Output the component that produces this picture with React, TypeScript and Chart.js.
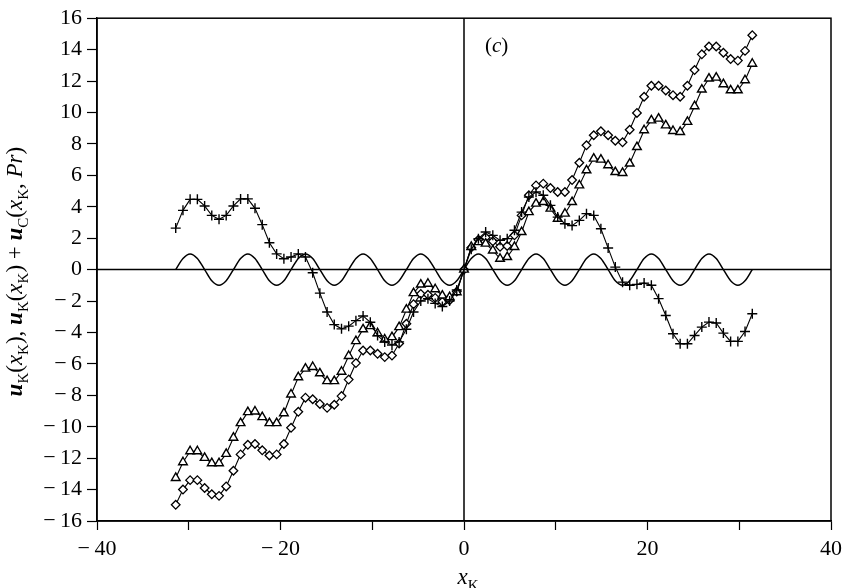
import React, { useEffect, useRef } from 'react';
import { Chart, registerables } from 'chart.js';

Chart.register(...registerables);

const FONT = "'Liberation Serif', 'Times New Roman', serif";

// x_K sample positions (steps of pi/4 from -10pi to 10pi)
const xK = [
  -31.42, -30.63, -29.85, -29.06, -28.27, -27.49, -26.7, -25.92, -25.13, -24.35,
  -23.56, -22.78, -21.99, -21.21, -20.42, -19.63, -18.85, -18.06, -17.28, -16.49,
  -15.71, -14.92, -14.14, -13.35, -12.57, -11.78, -11.0, -10.21, -9.42, -8.64,
  -7.85, -7.07, -6.28, -5.5, -4.71, -3.93, -3.14, -2.36, -1.57, -0.79,
  0,
  0.79, 1.57, 2.36, 3.14, 3.93, 4.71, 5.5, 6.28, 7.07, 7.85,
  8.64, 9.42, 10.21, 11.0, 11.78, 12.57, 13.35, 14.14, 14.92, 15.71,
  16.49, 17.28, 18.06, 18.85, 19.63, 20.42, 21.21, 21.99, 22.78, 23.56,
  24.35, 25.13, 25.92, 26.7, 27.49, 28.27, 29.06, 29.85, 30.63, 31.42,
];

// oscillating reference curve (no markers)
const waveY = [
  0, 0.71, 1, 0.71, 0, -0.71, -1, -0.71,
  0, 0.71, 1, 0.71, 0, -0.71, -1, -0.71,
  0, 0.71, 1, 0.71, 0, -0.71, -1, -0.71,
  0, 0.71, 1, 0.71, 0, -0.71, -1, -0.71,
  0, 0.71, 1, 0.71, 0, -0.71, -1, -0.71,
  0, 0.71, 1, 0.71, 0, -0.71, -1, -0.71,
  0, 0.71, 1, 0.71, 0, -0.71, -1, -0.71,
  0, 0.71, 1, 0.71, 0, -0.71, -1, -0.71,
  0, 0.71, 1, 0.71, 0, -0.71, -1, -0.71,
  0, 0.71, 1, 0.71, 0, -0.71, -1, -0.71,
  0,
];

// u_K(x_K): plus markers
const plusY = [
  2.64, 3.77, 4.47, 4.47, 4.05, 3.45, 3.2, 3.45, 4.05, 4.5,
  4.5, 3.9, 2.86, 1.71, 1.0, 0.69, 0.8, 1.0, 0.8, -0.2,
  -1.5, -2.7, -3.5, -3.77, -3.6, -3.25, -2.95, -3.35, -4.2, -4.6,
  -4.8, -4.6, -3.8, -2.7, -2.0, -1.85, -2.15, -2.35, -2.0, -1.3,
  0,
  1.29, 1.97, 2.39, 2.18, 1.86, 1.97, 2.5, 3.66, 4.62, 4.94,
  4.73, 4.09, 3.34, 2.92, 2.8, 3.13, 3.56, 3.45, 2.6, 1.37,
  0.16, -0.8, -1.0, -0.94, -0.86, -1.0, -1.85, -2.92, -4.08, -4.72,
  -4.72, -4.19, -3.66, -3.34, -3.4, -4.04, -4.57, -4.57, -3.94, -2.81,
];

// u_K + u_C: diamond markers
const diamondY = [
  -14.97, -14.0, -13.4, -13.4, -13.9, -14.3, -14.4, -13.8, -12.8, -11.76,
  -11.15, -11.1, -11.5, -11.83, -11.76, -11.1, -10.07, -9.05, -8.15, -8.25,
  -8.55, -8.8, -8.6, -8.05, -7.0, -5.95, -5.15, -5.15, -5.36, -5.57,
  -5.47, -4.7, -3.45, -2.2, -1.55, -1.6, -1.8, -2.05, -1.95, -1.4,
  0,
  1.4, 1.9, 2.05, 1.8, 1.45, 1.5, 2.18, 3.45, 4.73, 5.36,
  5.47, 5.19, 4.94, 4.94, 5.7, 6.8, 7.91, 8.55, 8.8, 8.55,
  8.2, 8.1, 8.9, 9.97, 11.0, 11.7, 11.7, 11.4, 11.1, 11.0,
  11.7, 12.7, 13.7, 14.2, 14.2, 13.8, 13.4, 13.3, 13.92, 14.92,
];

// u_K + u_C: triangle markers
const triangleY = [
  -13.26, -12.26, -11.56, -11.56, -11.98, -12.32, -12.32, -11.73, -10.7, -9.77,
  -9.07, -9.03, -9.39, -9.77, -9.77, -9.14, -7.95, -6.85, -6.3, -6.2,
  -6.6, -7.1, -7.1, -6.5, -5.5, -4.55, -3.8, -3.6, -4.05, -4.45,
  -4.3, -3.66, -2.55, -1.5, -0.95, -0.9, -1.25, -1.65, -1.75, -1.44,
  0,
  1.44, 1.75, 1.65, 1.22, 0.69, 0.8, 1.44, 2.39, 3.66, 4.2,
  4.3, 3.88, 3.24, 3.56, 4.3, 5.36, 6.32, 7.06, 7.0, 6.64,
  6.21, 6.15, 6.75, 7.8, 8.87, 9.5, 9.61, 9.18, 8.82, 8.76,
  9.4, 10.4, 11.46, 12.16, 12.22, 11.8, 11.41, 11.41, 12.05, 13.1,
];

const xRange = [-40, 40];
const yRange = [-16, 16];
const xStep = 10;
const xLabelEvery = 20;
const yStep = 2;

const fmt = (v: number) => (v < 0 ? '\u2212\u2009' + Math.abs(v) : String(v));

type Seg = { t: string; f?: string; sub?: boolean };

function drawRich(ctx: CanvasRenderingContext2D, segs: Seg[], x: number, y: number, size: number, align: 'left' | 'center') {
  const subSize = Math.round(size * 0.66);
  const fontOf = (s: Seg) => `${s.f || 'normal'} ${s.sub ? subSize : size}px ${FONT}`;
  let total = 0;
  for (const s of segs) {
    ctx.font = fontOf(s);
    total += ctx.measureText(s.t).width;
  }
  let cx = align === 'center' ? x - total / 2 : x;
  ctx.textAlign = 'left';
  ctx.textBaseline = 'alphabetic';
  for (const s of segs) {
    ctx.font = fontOf(s);
    ctx.fillText(s.t, cx, y + (s.sub ? size * 0.28 : 0));
    cx += ctx.measureText(s.t).width;
  }
}

const yTitle: Seg[] = [
  { t: 'u', f: 'italic bold' }, { t: 'K', sub: true }, { t: '(' }, { t: 'x', f: 'italic' }, { t: 'K', sub: true }, { t: '), ' },
  { t: 'u', f: 'italic bold' }, { t: 'K', sub: true }, { t: '(' }, { t: 'x', f: 'italic' }, { t: 'K', sub: true }, { t: ') + ' },
  { t: 'u', f: 'italic bold' }, { t: 'C', sub: true }, { t: '(' }, { t: 'x', f: 'italic' }, { t: 'K', sub: true }, { t: ', ' },
  { t: 'Pr', f: 'italic' }, { t: ')' },
];
const xTitle: Seg[] = [{ t: 'x', f: 'italic' }, { t: 'K', sub: true }];
const panelTag: Seg[] = [{ t: '(' }, { t: 'c', f: 'italic' }, { t: ')' }];

const framePlugin = {
  id: 'frame',
  beforeDatasetsDraw(chart: any) {
    const { ctx, chartArea: a, scales } = chart;
    const x0 = scales.x.getPixelForValue(0);
    const y0 = scales.y.getPixelForValue(0);
    ctx.save();
    ctx.strokeStyle = '#000';
    ctx.lineWidth = 1.5;
    ctx.strokeRect(a.left, a.top, a.right - a.left, a.bottom - a.top);
    ctx.beginPath();
    ctx.moveTo(x0, a.top);
    ctx.lineTo(x0, a.bottom);
    ctx.moveTo(a.left, y0);
    ctx.lineTo(a.right, y0);
    ctx.stroke();
    ctx.restore();
  },
  afterDraw(chart: any) {
    const { ctx, chartArea: a } = chart;
    ctx.save();
    ctx.fillStyle = '#000';
    // vertical axis title
    ctx.save();
    ctx.translate(22, (a.top + a.bottom) / 2 + 2);
    ctx.rotate(-Math.PI / 2);
    drawRich(ctx, yTitle, 0, 0, 23, 'center');
    ctx.restore();
    // horizontal axis title
    drawRich(ctx, xTitle, (a.left + a.right) / 2 + 4, 584, 23, 'center');
    // panel tag
    drawRich(ctx, panelTag, 485, 52, 21, 'left');
    ctx.restore();
  },
};

export default function App() {
  const ref = useRef<HTMLCanvasElement | null>(null);

  useEffect(() => {
    if (!ref.current) return;
    const pts = (ys: number[]) => xK.map((x, i) => ({ x, y: ys[i] }));
    const chart = new Chart(ref.current, {
      type: 'line',
      data: {
        datasets: [
          {
            label: 'u_K',
            data: pts(plusY),
            borderColor: '#000',
            borderWidth: 1.1,
            pointStyle: 'cross',
            pointRadius: 5,
            pointBorderWidth: 1.4,
            pointBorderColor: '#000',
            tension: 0,
          },
          {
            label: 'triangles',
            data: pts(triangleY),
            borderColor: '#000',
            borderWidth: 1.1,
            pointStyle: 'triangle',
            pointRadius: 5,
            pointBorderWidth: 1.4,
            pointBorderColor: '#000',
            pointBackgroundColor: '#fff',
            tension: 0,
          },
          {
            label: 'diamonds',
            data: pts(diamondY),
            borderColor: '#000',
            borderWidth: 1.1,
            pointStyle: 'rectRot',
            pointRadius: 4.3,
            pointBorderWidth: 1.3,
            pointBorderColor: '#000',
            pointBackgroundColor: '#fff',
            tension: 0,
          },
          {
            label: 'wave',
            data: pts(waveY),
            borderColor: '#000',
            borderWidth: 1.5,
            pointRadius: 0,
            cubicInterpolationMode: 'monotone',
          },
        ],
      },
      options: {
        animation: false,
        responsive: false,
        events: [],
        layout: { padding: { top: 18, right: 10, left: 0, bottom: 0 }, autoPadding: false },
        plugins: { legend: { display: false }, tooltip: { enabled: false }, title: { display: false } },
        scales: {
          x: {
            type: 'linear',
            min: xRange[0],
            max: xRange[1],
            afterFit: (s: any) => { s.height = 67; },
            ticks: {
              stepSize: xStep,
              autoSkip: false,
              maxRotation: 0,
              color: '#000',
              font: { family: FONT, size: 22, lineHeight: 1.75 },
              padding: 0,
              callback: (v: any) => (Number(v) % xLabelEvery === 0 ? fmt(Number(v)) : ''),
            },
            grid: { drawOnChartArea: false, drawTicks: true, tickLength: 9, tickColor: '#000', tickWidth: 1.2 },
            border: { display: true, color: '#000', width: 1.5 },
          },
          y: {
            type: 'linear',
            min: yRange[0],
            max: yRange[1],
            afterFit: (s: any) => { s.width = 97; },
            ticks: {
              stepSize: yStep,
              autoSkip: false,
              color: '#000',
              font: { family: FONT, size: 22 },
              padding: 5,
              callback: (v: any) => fmt(Number(v)),
            },
            grid: { drawOnChartArea: false, drawTicks: true, tickLength: 10, tickColor: '#000', tickWidth: 1.2 },
            border: { display: true, color: '#000', width: 1.5 },
          },
        },
      },
      plugins: [framePlugin],
    } as any);
    return () => chart.destroy();
  }, []);

  return (
    <div style={{ position: 'fixed', left: 0, top: 0, width: 842, height: 588, overflow: 'hidden', background: '#fff' }}>
      <canvas ref={ref} width={842} height={588} style={{ display: 'block' }} />
    </div>
  );
}
